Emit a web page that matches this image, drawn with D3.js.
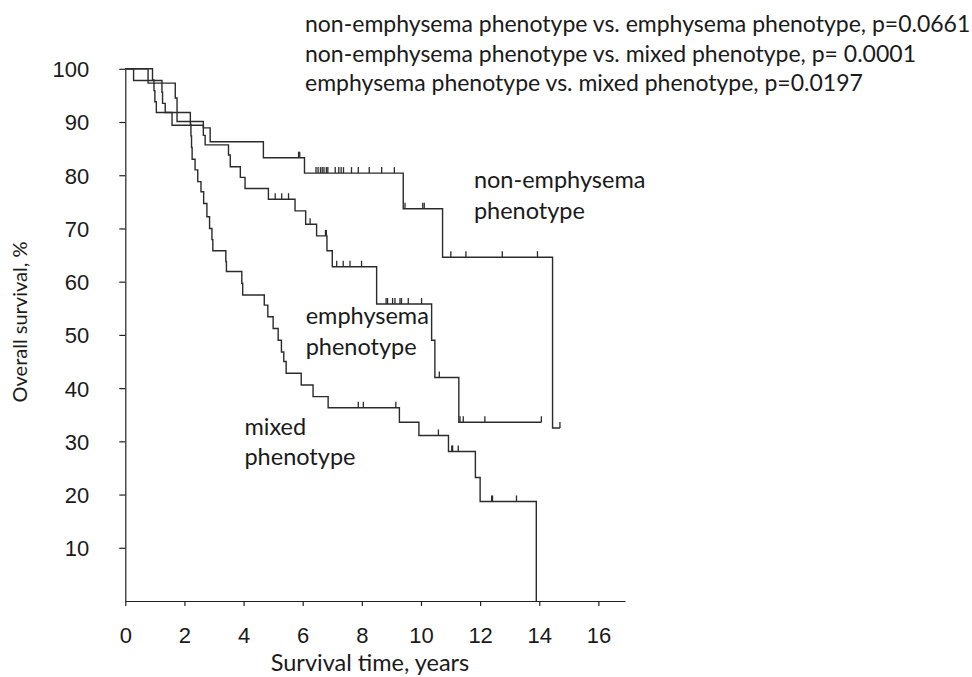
<!DOCTYPE html>
<html>
<head>
<meta charset="utf-8">
<script src="https://cdn.jsdelivr.net/npm/d3@7/dist/d3.min.js"></script>
<style>
  body { margin: 0; background: #fff; }
  svg { display: block; font-family: Lato, "Open Sans", sans-serif; }
  .axis path, .axis line { stroke: #222; stroke-width: 1.2; }
  .axis text { fill: #1a1a1a; font-size: 22px; }
</style>
</head>
<body>
<div id="chart"></div>
<script>
// Kaplan-Meier steps: [time (years), survival (%)] after each event
const nonEmphSteps = [[0,100],[0.77,97.3],[1.69,94.5],[1.75,90.1],[2.64,88.9],[2.87,86.3],[4.67,83.3],[6.06,80.4],[9.40,73.7],[10.73,64.6],[14.45,32.5]];
const nonEmphEnd = 14.7;
const nonEmphCensor = [[5.86,83.3],[5.90,83.3],
  [6.45,80.4],[6.52,80.4],[6.60,80.4],[6.66,80.4],[6.72,80.4],[6.80,80.4],[6.85,80.4],[7.10,80.4],[7.22,80.4],[7.30,80.4],[7.38,80.4],[7.65,80.4],[7.88,80.4],[8.25,80.4],[8.67,80.4],[9.10,80.4],
  [9.46,73.7],[10.06,73.7],[10.11,73.7],
  [11.01,64.6],[11.52,64.6],[12.75,64.6],[13.94,64.6],
  [14.70,32.5]];

const emphSteps = [[0,100],[0.28,97.8],[1.24,95.6],[1.26,93.5],[1.35,91.8],[1.58,89.4],[2.64,87.5],[2.70,85.7],[3.49,83.8],[3.55,81.6],[3.89,79.6],[4.05,77.5],[4.84,75.5],[5.74,73.3],[6.10,70.8],[6.47,68.6],[6.82,65.8],[7.00,62.8],[8.50,55.8],[10.36,49.0],[10.47,42.0],[11.28,33.6]];
const emphEnd = 14.07;
const emphCensor = [[5.07,75.5],[5.29,75.5],[5.52,75.5],
  [6.25,70.8],[6.77,68.6],[6.80,68.6],
  [7.15,62.8],[7.37,62.8],[7.60,62.8],[7.99,62.8],
  [8.82,55.8],[8.87,55.8],[9.04,55.8],[9.12,55.8],[9.29,55.8],[9.34,55.8],[9.57,55.8],[10.02,55.8],
  [10.62,42.0],
  [11.32,33.6],[11.43,33.6],[12.16,33.6],[14.07,33.6]];

const mixedSteps = [[0,100],[0.92,97.9],[0.97,95.9],[1.00,93.8],[1.05,91.8],[2.20,89.6],[2.22,87.4],[2.24,85.2],[2.26,83.0],[2.36,81.0],[2.45,78.8],[2.56,76.9],[2.65,74.7],[2.76,72.2],[2.85,70.0],[2.93,67.9],[2.96,65.8],[3.40,63.8],[3.42,61.9],[3.94,59.7],[3.97,57.5],[4.70,55.6],[4.82,53.4],[5.00,51.2],[5.17,49.0],[5.28,46.8],[5.36,45.0],[5.44,42.8],[5.95,40.6],[6.35,38.4],[6.86,36.3],[9.27,33.6],[9.93,31.1],[10.93,28.1],[11.84,23.2],[12.00,18.7],[13.90,0]];
const mixedEnd = 13.9;
const mixedCensor = [[7.88,36.3],[8.05,36.3],[9.15,36.3],
  [10.59,31.1],
  [11.04,28.1],[11.07,28.1],[11.26,28.1],
  [12.39,18.7],[12.42,18.7],[13.23,18.7]];

const xTicks = [0, 2, 4, 6, 8, 10, 12, 14, 16];
const yTicks = [10, 20, 30, 40, 50, 60, 70, 80, 90, 100];

const pValueLines = [
  "non-emphysema phenotype vs. emphysema phenotype, p=0.0661",
  "non-emphysema phenotype vs. mixed phenotype, p= 0.0001",
  "emphysema phenotype vs. mixed phenotype, p=0.0197"
];
// label anchor: time and survival value of the first baseline
const curveLabels = [
  { lines: ["non-emphysema", "phenotype"], t: 11.79, s: 77.6 },
  { lines: ["emphysema", "phenotype"], t: 6.1, s: 52.0 },
  { lines: ["mixed", "phenotype"], t: 4.03, s: 31.2 }
];

const W = 972, H = 677;
const svg = d3.select("#chart").append("svg")
  .attr("width", W).attr("height", H);

const x = d3.scaleLinear().domain([0, 16.9]).range([125.3, 625]);
const y = d3.scaleLinear().domain([0, 100]).range([601, 68.8]);

// axes
svg.append("g").attr("class", "axis")
  .attr("transform", `translate(0,${y(0)})`)
  .call(d3.axisBottom(x).tickValues(xTicks).tickSize(5).tickSizeOuter(0).tickPadding(21));

const yAxis = svg.append("g").attr("class", "axis")
  .attr("transform", `translate(${x(0)},0)`)
  .call(d3.axisLeft(y).tickValues(yTicks).tickSize(6).tickSizeOuter(0).tickPadding(30));
yAxis.selectAll("text").attr("dy", "0.36em");

svg.append("text")
  .attr("x", 370).attr("y", 671)
  .attr("text-anchor", "middle")
  .attr("font-size", 23.5).attr("fill", "#1a1a1a")
  .text("Survival time, years");

svg.append("text")
  .attr("transform", "translate(27,322) rotate(-90)")
  .attr("text-anchor", "middle")
  .attr("font-size", 20).attr("fill", "#1a1a1a")
  .text("Overall survival, %");

// survival curves
const line = d3.line()
  .x(d => x(d[0]))
  .y(d => y(d[1]))
  .curve(d3.curveStepAfter);

const curves = [
  { steps: nonEmphSteps, end: nonEmphEnd, censor: nonEmphCensor },
  { steps: emphSteps, end: emphEnd, censor: emphCensor },
  { steps: mixedSteps, end: mixedEnd, censor: mixedCensor }
];

curves.forEach(c => {
  const pts = c.steps.concat([[c.end, c.steps[c.steps.length - 1][1]]]);
  svg.append("path")
    .datum(pts)
    .attr("d", line)
    .attr("fill", "none")
    .attr("stroke", "#2b2b2b")
    .attr("stroke-width", 1.4);

  svg.append("g").selectAll("line")
    .data(c.censor)
    .join("line")
    .attr("x1", d => x(d[0])).attr("x2", d => x(d[0]))
    .attr("y1", d => y(d[1])).attr("y2", d => y(d[1]) - 6)
    .attr("stroke", "#2b2b2b")
    .attr("stroke-width", 1.3);
});

// curve labels
curveLabels.forEach(l => {
  const txt = svg.append("text")
    .attr("x", x(l.t)).attr("y", y(l.s))
    .attr("font-size", 23.5).attr("fill", "#1a1a1a");
  l.lines.forEach((s, i) => {
    txt.append("tspan").attr("x", x(l.t)).attr("dy", i === 0 ? 0 : 30.5).text(s);
  });
});

// p-values
svg.append("g").selectAll("text")
  .data(pValueLines)
  .join("text")
  .attr("x", 305)
  .attr("y", (d, i) => 32 + i * 29.5)
  .attr("font-size", 23)
  .attr("fill", "#1a1a1a")
  .text(d => d);
</script>
</body>
</html>
